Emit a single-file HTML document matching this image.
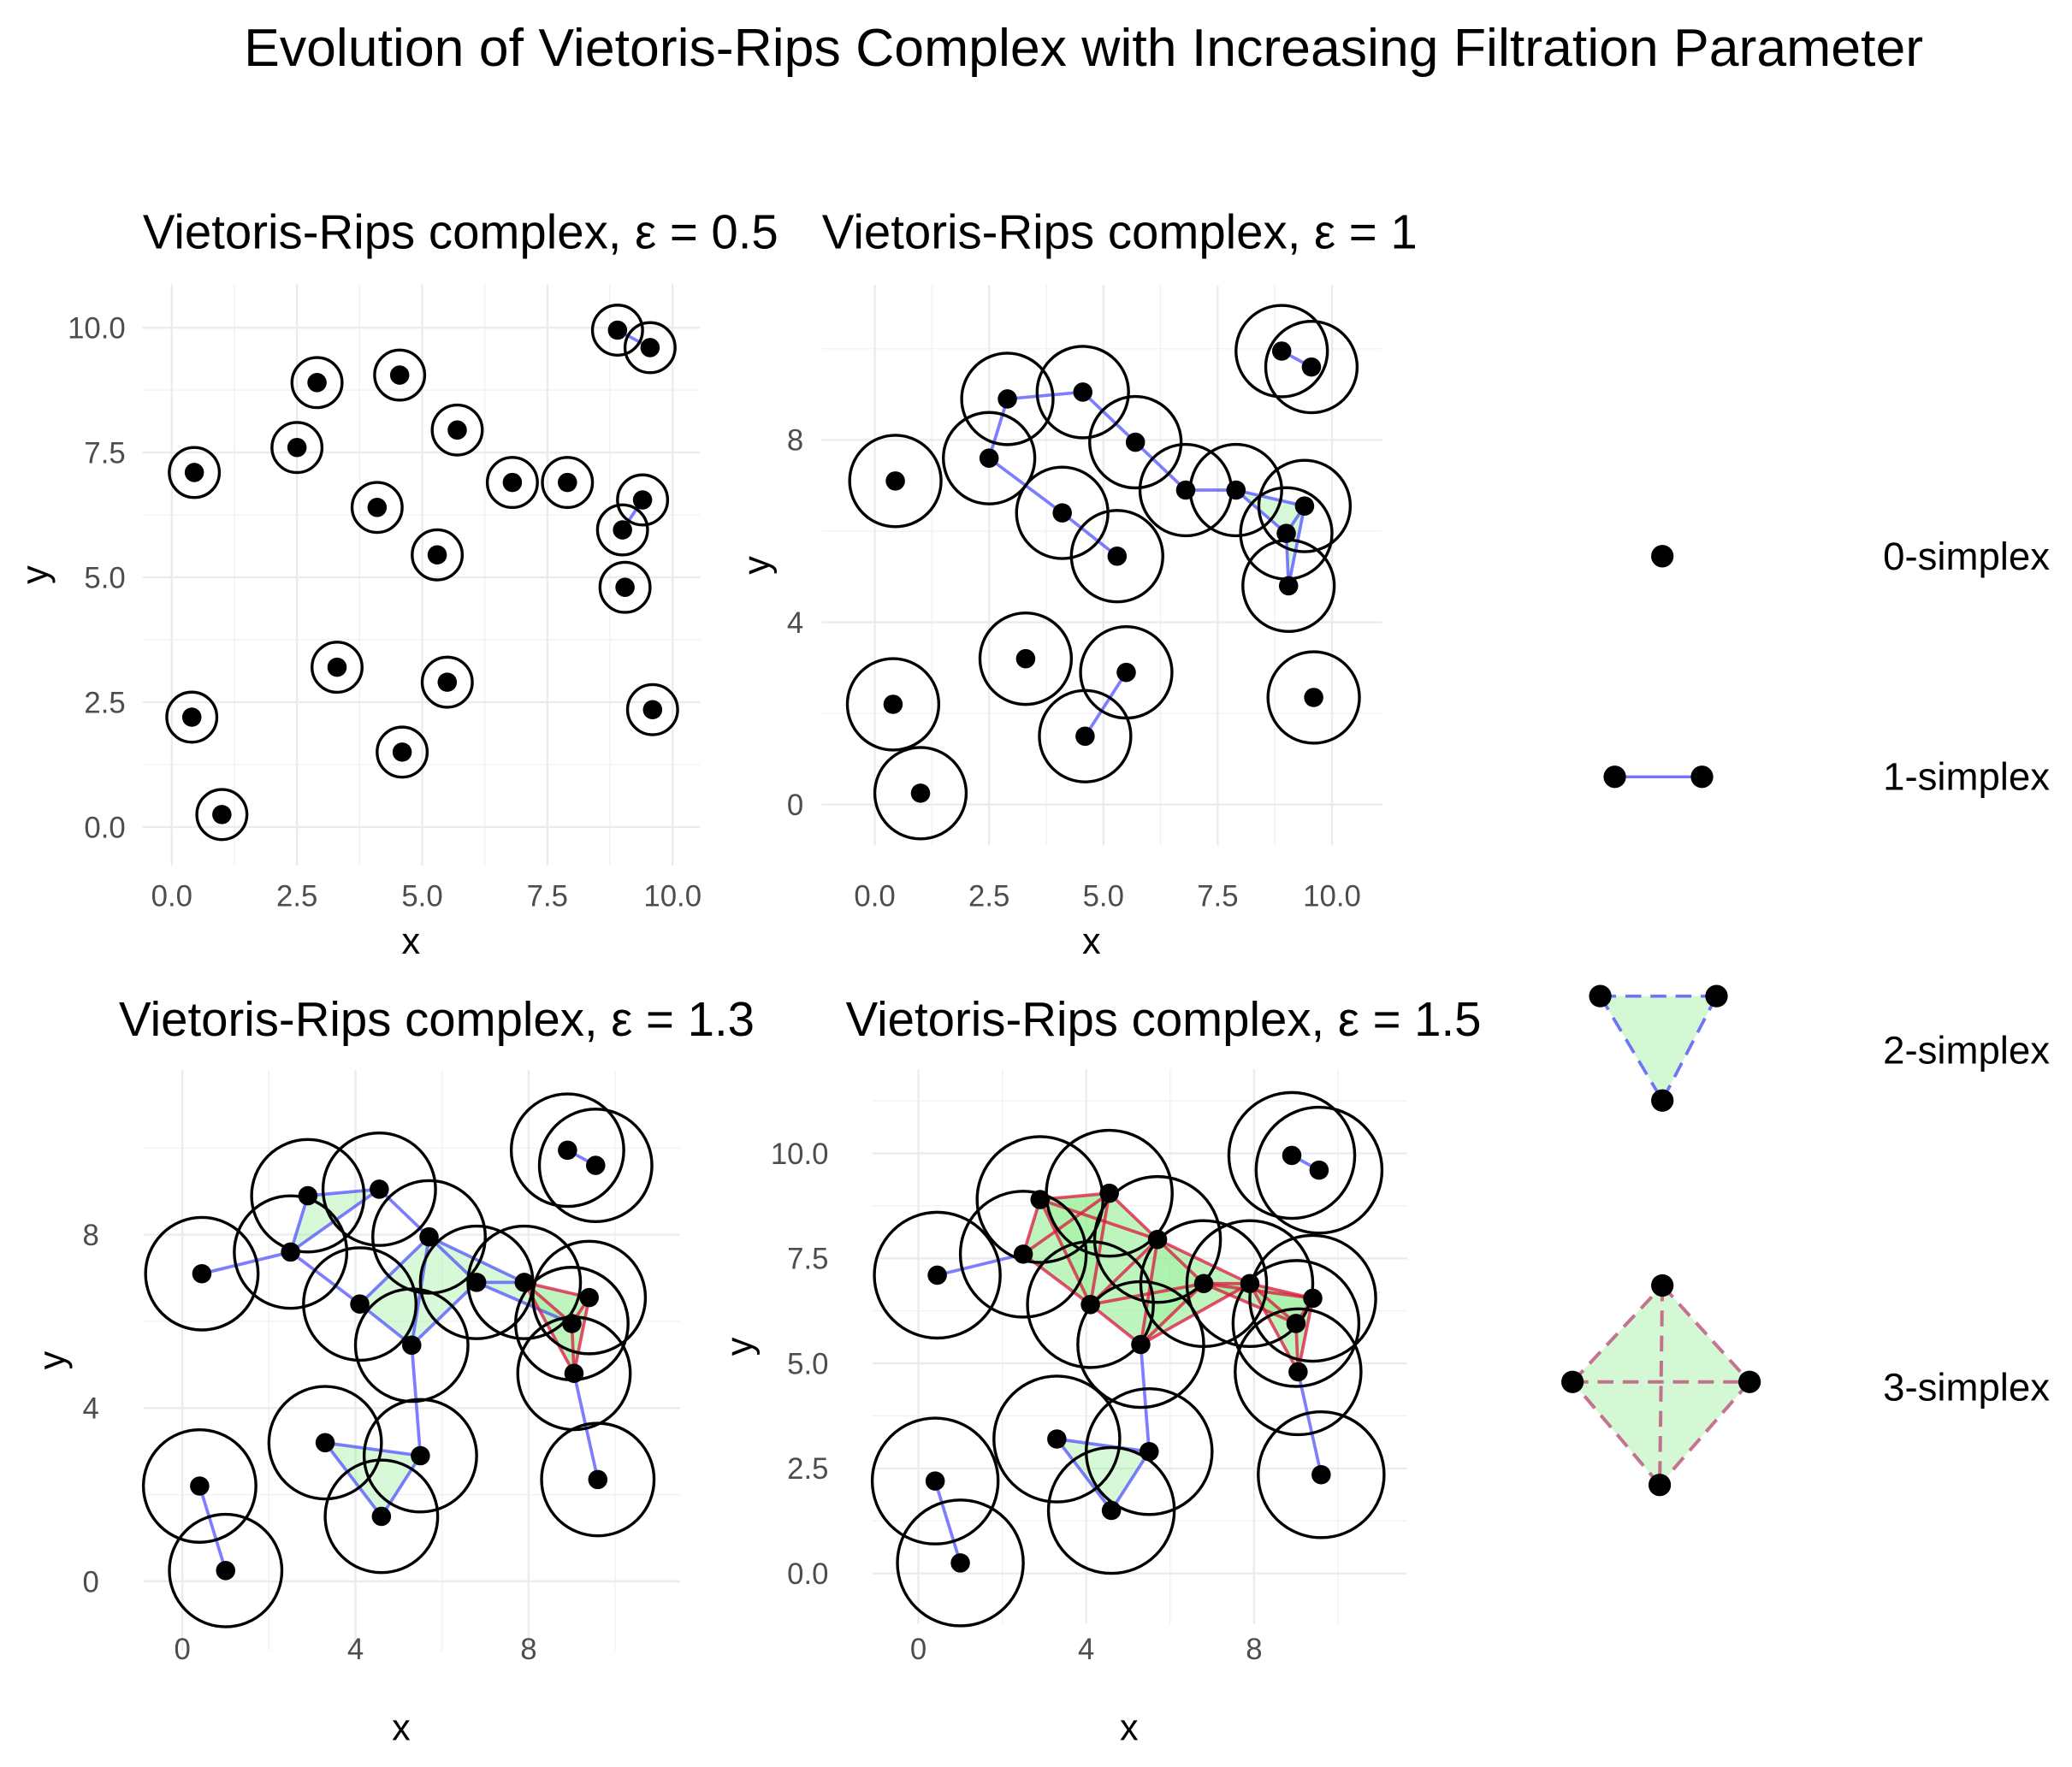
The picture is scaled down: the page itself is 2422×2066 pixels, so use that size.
<!DOCTYPE html>
<html><head><meta charset="utf-8"><style>
html,body{margin:0;padding:0;background:#fff;}
svg{display:block;font-family:"Liberation Sans",sans-serif;}
</style></head><body>
<svg id="chart" width="2422" height="2066" viewBox="0 0 1568 1337.5" xmlns="http://www.w3.org/2000/svg">
<text x="820" y="50" font-size="40.5" text-anchor="middle" fill="#000">Evolution of Vietoris-Rips Complex with Increasing Filtration Parameter</text>
</svg>
<script>
// data
const pointX = [0.45,0.4,1.0,2.5,2.9,3.3,4.1,4.55,4.6,5.3,5.5,5.7,6.8,7.9,8.9,9.55,9.4,9.0,9.05,9.6];
const pointY = [7.1,2.2,0.25,7.6,8.9,3.2,6.4,9.05,1.5,5.45,2.9,7.95,6.9,6.9,9.95,9.6,6.55,5.95,4.8,2.35];
const epsilons = [0.5,1,1.3,1.5];
const panelTitles = ["Vietoris-Rips complex, ε = 0.5","Vietoris-Rips complex, ε = 1","Vietoris-Rips complex, ε = 1.3","Vietoris-Rips complex, ε = 1.5"];
const xTicks1 = [0,2.5,5,7.5,10], xTickLabels1 = ["0.0","2.5","5.0","7.5","10.0"];
const xTicks2 = [0,4,8], xTickLabels2 = ["0","4","8"];
const yTicksA = [0,2.5,5,7.5,10], yTickLabelsA = ["0.0","2.5","5.0","7.5","10.0"];
const yTicksB = [0,4,8], yTickLabelsB = ["0","4","8"];
const legendLabels = ["0-simplex","1-simplex","2-simplex","3-simplex"];

const NS="http://www.w3.org/2000/svg";
const svg=document.getElementById('chart');
function mk(tag,attrs,parent){const e=document.createElementNS(NS,tag);for(const k in attrs)e.setAttribute(k,attrs[k]);(parent||svg).appendChild(e);return e;}

const panels=[
 {x0:130,sx:37.9,y0:626,sy:37.8,xl:[-0.58,10.55],yl:[-0.77,10.87],xt:xTicks1,xtl:xTickLabels1,xm:[1.25,3.75,6.25,8.75],yt:yTicksA,ytl:yTickLabelsA,ym:[1.25,3.75,6.25,8.75],tx:108,ty:188,xlabY:686,xTitY:722,yTitX:36,yLabX:95},
 {x0:662,sx:34.6,y0:609,sy:34.5,xl:[-1.16,11.1],yl:[-0.9,11.4],xt:xTicks1,xtl:xTickLabels1,xm:[1.25,3.75,6.25,8.75],yt:yTicksB,ytl:yTickLabelsB,ym:[2,6,10],tx:622,ty:188,xlabY:686,xTitY:722,yTitX:582,yLabX:608},
 {x0:138,sx:32.75,y0:1197,sy:32.8,xl:[-0.9,11.5],yl:[-1.6,11.8],xt:xTicks2,xtl:xTickLabels2,xm:[2,6,10],yt:yTicksB,ytl:yTickLabelsB,ym:[-2,2,6,10],tx:90,ty:784,xlabY:1256,xTitY:1317,yTitX:49,yLabX:75},
 {x0:695,sx:31.75,y0:1191,sy:31.8,xl:[-1.1,11.65],yl:[-1.2,12],xt:xTicks2,xtl:xTickLabels2,xm:[-2,2,6,10],yt:yTicksA,ytl:yTickLabelsA,ym:[-1.25,1.25,3.75,6.25,8.75,11.25],tx:640,ty:784,xlabY:1256,xTitY:1317,yTitX:569,yLabX:627}
];

panels.forEach((p,pi)=>{
 const eps=epsilons[pi];
 const X=v=>p.x0+v*p.sx, Y=v=>p.y0-v*p.sy;
 const g=mk('g',{});
 
 
 const x1=X(p.xl[0]),x2=X(p.xl[1]),y1=Y(p.yl[1]),y2=Y(p.yl[0]);
 p.xm.forEach(v=>{if(v>=p.xl[0]&&v<=p.xl[1])mk('line',{x1:X(v),x2:X(v),y1:y1,y2:y2,stroke:'#f0f0f0','stroke-width':0.8},g);});
 p.ym.forEach(v=>{if(v>=p.yl[0]&&v<=p.yl[1])mk('line',{x1:x1,x2:x2,y1:Y(v),y2:Y(v),stroke:'#f0f0f0','stroke-width':0.8},g);});
 p.xt.forEach((v,i)=>{mk('line',{x1:X(v),x2:X(v),y1:y1,y2:y2,stroke:'#ebebeb','stroke-width':1.5},g);
   const t=mk('text',{x:X(v),y:p.xlabY,'font-size':22.5,'text-anchor':'middle',fill:'#4d4d4d'},g);t.textContent=p.xtl[i];
   });
 p.yt.forEach((v,i)=>{mk('line',{x1:x1,x2:x2,y1:Y(v),y2:Y(v),stroke:'#ebebeb','stroke-width':1.5},g);
   const t=mk('text',{x:p.yLabX,y:Y(v)+8,'font-size':22.5,'text-anchor':'end',fill:'#4d4d4d'},g);t.textContent=p.ytl[i];
   });
 const tt=mk('text',{x:p.tx,y:p.ty,'font-size':36.5,fill:'#000'},g);tt.textContent=panelTitles[pi];
 
 const xt=mk('text',{x:(x1+x2)/2-8,y:p.xTitY,'font-size':28,'text-anchor':'middle',fill:'#000'},g);xt.textContent='x';
 
 const cy=(y1+y2)/2;
 const yt=mk('text',{x:p.yTitX,y:cy,'font-size':28,'text-anchor':'middle',fill:'#000',transform:`rotate(-90 ${p.yTitX} ${cy})`},g);yt.textContent='y';
 

 const n=pointX.length;
 const adj=(i,j)=>Math.hypot(pointX[i]-pointX[j],pointY[i]-pointY[j])<=2*eps;
 const tetraEdges=new Set();
 for(let i=0;i<n;i++)for(let j=i+1;j<n;j++)if(adj(i,j))for(let k=j+1;k<n;k++)if(adj(i,k)&&adj(j,k)){
   const tri=mk('polygon',{points:`${X(pointX[i])},${Y(pointY[i])} ${X(pointX[j])},${Y(pointY[j])} ${X(pointX[k])},${Y(pointY[k])}`,fill:'rgba(144,238,144,0.35)',stroke:'none'},g);
   
   for(let l=k+1;l<n;l++)if(adj(i,l)&&adj(j,l)&&adj(k,l)){[[i,j],[i,k],[i,l],[j,k],[j,l],[k,l]].forEach(e=>tetraEdges.add(e[0]+'-'+e[1]));}
 }
 for(let i=0;i<n;i++)for(let j=i+1;j<n;j++)if(adj(i,j)){
   const red=tetraEdges.has(i+'-'+j);
   const ln=mk('line',{x1:X(pointX[i]),y1:Y(pointY[i]),x2:X(pointX[j]),y2:Y(pointY[j]),stroke:red?'rgba(220,20,60,0.75)':'rgba(70,70,255,0.7)','stroke-width':2.4},g);
   
 }
 for(let i=0;i<n;i++){
   const c=mk('circle',{cx:X(pointX[i]),cy:Y(pointY[i]),r:eps*p.sx,fill:'none',stroke:'#000','stroke-width':2.2},g);
   
 }
 for(let i=0;i<n;i++){
   const c=mk('circle',{cx:X(pointX[i]),cy:Y(pointY[i]),r:7.3,fill:'#000'},g);
   
 }
});

// legend
const lg=mk('g',{});


const dot=(x,y)=>{const c=mk('circle',{cx:x,cy:y,r:8.5,fill:'#000'},lg);};
mk('polygon',{points:'1211,754 1299,754 1258,833',fill:'rgba(144,238,144,0.4)'},lg);
mk('polygon',{points:'1258,973 1324,1046 1256,1124 1190,1046',fill:'rgba(144,238,144,0.4)'},lg);
mk('line',{x1:1222,y1:588,x2:1288,y2:588,stroke:'rgba(70,70,255,0.75)','stroke-width':2.2},lg);
[[1211,754,1299,754],[1211,754,1258,833],[1299,754,1258,833]].forEach(a=>mk('line',{x1:a[0],y1:a[1],x2:a[2],y2:a[3],stroke:'rgba(70,70,255,0.75)','stroke-width':2.4,'stroke-dasharray':'12 7'},lg));
[[1258,973,1324,1046],[1324,1046,1256,1124],[1256,1124,1190,1046],[1190,1046,1258,973],[1190,1046,1324,1046],[1258,973,1256,1124]].forEach(a=>mk('line',{x1:a[0],y1:a[1],x2:a[2],y2:a[3],stroke:'rgba(190,90,130,0.85)','stroke-width':2.6,'stroke-dasharray':'12 7'},lg));
dot(1258,421);dot(1222,588);dot(1288,588);dot(1211,754);dot(1299,754);dot(1258,833);
dot(1258,973);dot(1324,1046);dot(1256,1124);dot(1190,1046);
const ly=[421,588,795,1050];
legendLabels.forEach((s,i)=>{const t=mk('text',{x:1425,y:ly[i]+10,'font-size':29.5,fill:'#000'},lg);t.textContent=s;
 });
</script>
</body></html>
